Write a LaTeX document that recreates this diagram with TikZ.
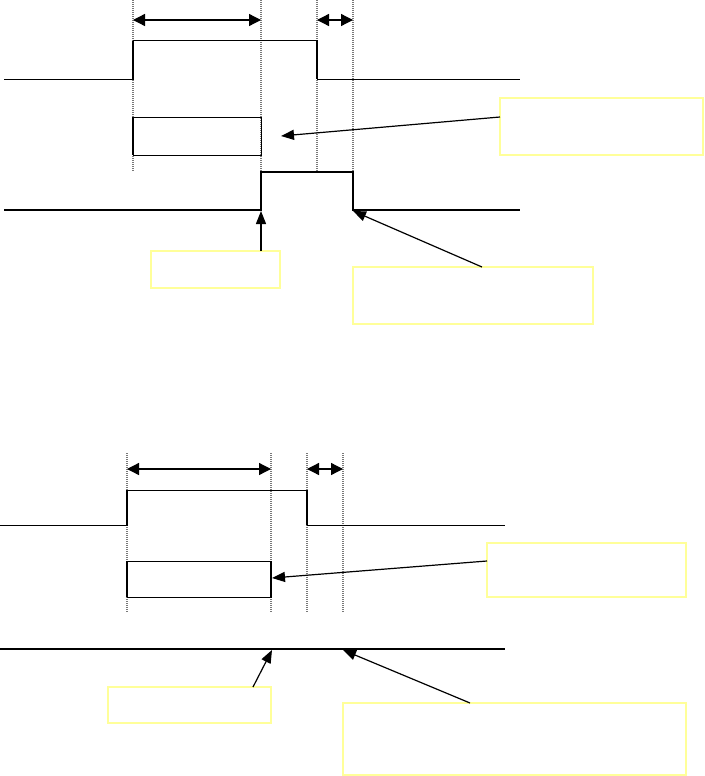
\documentclass[tikz,border=0pt]{standalone}
\usetikzlibrary{arrows.meta}
\definecolor{note}{RGB}{255,255,153}
\definecolor{guide}{RGB}{120,120,120}
\tikzset{
  thinsig/.style={line width=1pt,line join=miter},
  edgesig/.style={line width=1.8pt},
  thicksig/.style={line width=2pt,line join=miter},
  guideline/.style={guide,line width=1.2pt,dash pattern=on 1pt off 1pt},
  dimarrow/.style={line width=1.3pt,{Triangle[length=12pt,width=12pt]}-{Triangle[length=12pt,width=12pt]}},
  callout/.style={line width=1.2pt,-{Triangle[length=13pt,width=10pt]}},
  notebox/.style={draw=note,line width=1.3pt,anchor=north west,inner sep=0pt,outer sep=0pt},
  framebox/.style={draw,line width=1pt}
}
\begin{document}
\begin{tikzpicture}[x=1pt,y=-1pt]
\useasboundingbox (0,0) rectangle (704,776);
% ---------- top diagram ----------
\foreach \xx/\yy in {133/172,261/172,317/172,353/172}
  \draw[guideline] (\xx,0) -- (\xx,\yy);
\draw[dimarrow] (133,20) -- (261,20);
\draw[dimarrow] (317,20) -- (353,20);
\draw[thinsig] (4,79) -- (133,79) -- (133,41) -- (317,41) -- (317,79) -- (520,79);
\draw[edgesig] (133,79) -- (133,41) (317,41) -- (317,79);
\draw[framebox] (133,117) rectangle (261,155);
\draw[edgesig] (133,117) -- (133,155);
\draw[thicksig] (4,210) -- (261,210) -- (261,172) -- (353,172) -- (353,210) -- (520,210);
\node[notebox,minimum width=203pt,minimum height=57pt] (box1) at (500,98) {};
\node[notebox,minimum width=129pt,minimum height=37pt] (box2) at (151,251) {};
\node[notebox,minimum width=240pt,minimum height=57pt] (box3) at (353,267) {};
\coordinate (t1) at (281,136);
\coordinate (t2) at (261,211);
\coordinate (t3) at (353,211);
\draw[callout] ([yshift=9.5pt]box1.west) -- (t1);
\draw[callout] (box2.north -| t2) -- (t2);
\draw[callout] ([xshift=9pt]box3.north) -- (t3);
% ---------- bottom diagram ----------
\foreach \xx in {127,271,307,343}
  \draw[guideline] (\xx,453) -- (\xx,613);
\draw[dimarrow] (127,469) -- (271,469);
\draw[dimarrow] (307,469) -- (343,469);
\draw[thinsig] (0,525) -- (127,525) -- (127,490) -- (307,490) -- (307,525) -- (505,525);
\draw[edgesig] (127,525) -- (127,490) (307,490) -- (307,525);
\draw[framebox] (127,561) rectangle (271,597);
\draw[edgesig] (127,561) -- (127,597) (271,561) -- (271,597);
\draw[thicksig] (0,649) -- (505,649);
\node[notebox,minimum width=199pt,minimum height=54pt] (box4) at (487,543) {};
\node[notebox,minimum width=163pt,minimum height=36pt] (box5) at (108,687) {};
\node[notebox,minimum width=343pt,minimum height=72pt] (box6) at (343,703) {};
\coordinate (t4) at (272,578);
\coordinate (t5) at (272,650);
\coordinate (t6) at (343,650);
\draw[callout] ([yshift=9pt]box4.west) -- (t4);
\draw[callout] ([xshift=63.5pt]box5.north) -- (t5);
\draw[callout] ([xshift=-44.5pt]box6.north) -- (t6);
\end{tikzpicture}
\end{document}
